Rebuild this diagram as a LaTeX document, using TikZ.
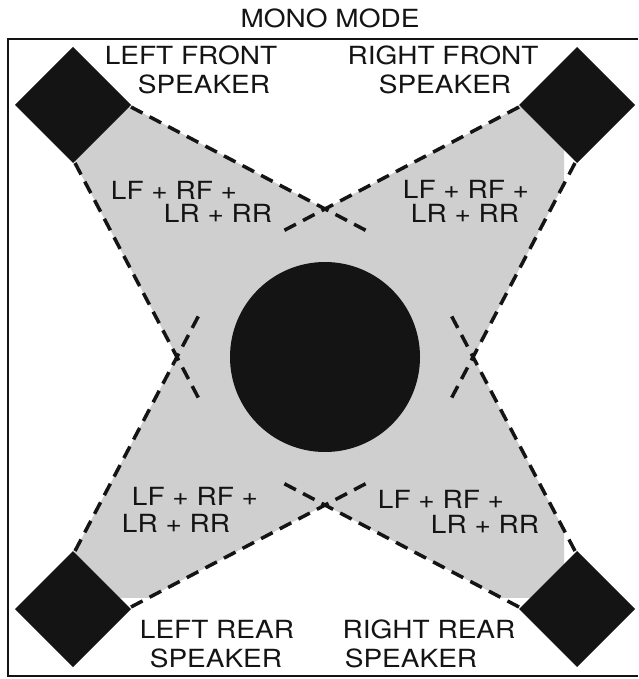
\documentclass[tikz,border=0pt]{standalone}
\usepackage{fontspec}
\setmainfont[FakeStretch=1.12]{TeX Gyre Heros}
\definecolor{beamgray}{gray}{0.81}
\definecolor{ink}{gray}{0.08}
\tikzset{
  lbl/.style={anchor=base, inner sep=0pt, font=\fontsize{25}{30}\selectfont, text=ink},
  beamedge/.style={ink, line width=3.5pt, dash pattern=on 13pt off 8pt},
  spk/.style={fill=ink, draw=none},
  frameline/.style={ink, line width=2.5pt}
}
\begin{document}
\begin{tikzpicture}[x=1pt,y=-1pt]
\useasboundingbox (0,0) rectangle (638,679);
% gray area bounded by the beam edges, clipped to the shaded area
\begin{scope}
  \clip (70,104) rectangle (564,597);
  \fill[beamgray] (131,107) -- (325,209) -- (519,107) -- (577,105) -- (575,163)
    -- (473,357) -- (575,551) -- (577,609) -- (519,607) -- (325,505) -- (131,607)
    -- (73,609) -- (75,551) -- (177,357) -- (75,163) -- (73,105) -- cycle;
\end{scope}
% listener
\fill[ink] (325,357) circle[radius=95];
% beam edges and speakers
\foreach \sx/\sy/\cx/\cy in {1/1/73/105, -1/1/577/105, 1/-1/73/609, -1/-1/577/609}{
  \begin{scope}[shift={(\cx,\cy)}, xscale=\sx, yscale=\sy]
    \draw[beamedge] (58,2) -- (294,126);
    \draw[beamedge] (2,58) -- (126,294);
    \fill[spk] (0,-58) -- (58,0) -- (0,58) -- (-58,0) -- cycle;
  \end{scope}
}
% frame
\draw[frameline] (638,39) -- (8,39) -- (8,676) -- (638,676);
% texts
\node[lbl] (title) at (330,28) {MONO MODE};
\node[lbl] (lf1) at (191,65) {LEFT FRONT};
\node[lbl] (lf2) at (204,94) {SPEAKER};
\node[lbl] (rf1) at (443,65) {RIGHT FRONT};
\node[lbl] (rf2) at (445,94) {SPEAKER};
\node[lbl] (lr1) at (217,638) {LEFT REAR};
\node[lbl] (lr2) at (216,667) {SPEAKER};
\node[lbl] (rr1) at (429,638) {RIGHT REAR};
\node[lbl] (rr2) at (411,667) {SPEAKER};
\node[lbl] (blf1) at (174,199) {LF + RF +};
\node[lbl] (blf2) at (218,222) {LR + RR};
\node[lbl] (brf1) at (466,198) {LF + RF +};
\node[lbl] (brf2) at (465,222) {LR + RR};
\node[lbl] (blr1) at (195,505) {LF + RF +};
\node[lbl] (blr2) at (176,532) {LR + RR};
\node[lbl] (brr1) at (441,508) {LF + RF +};
\node[lbl] (brr2) at (485,533) {LR + RR};
\end{tikzpicture}
\end{document}
